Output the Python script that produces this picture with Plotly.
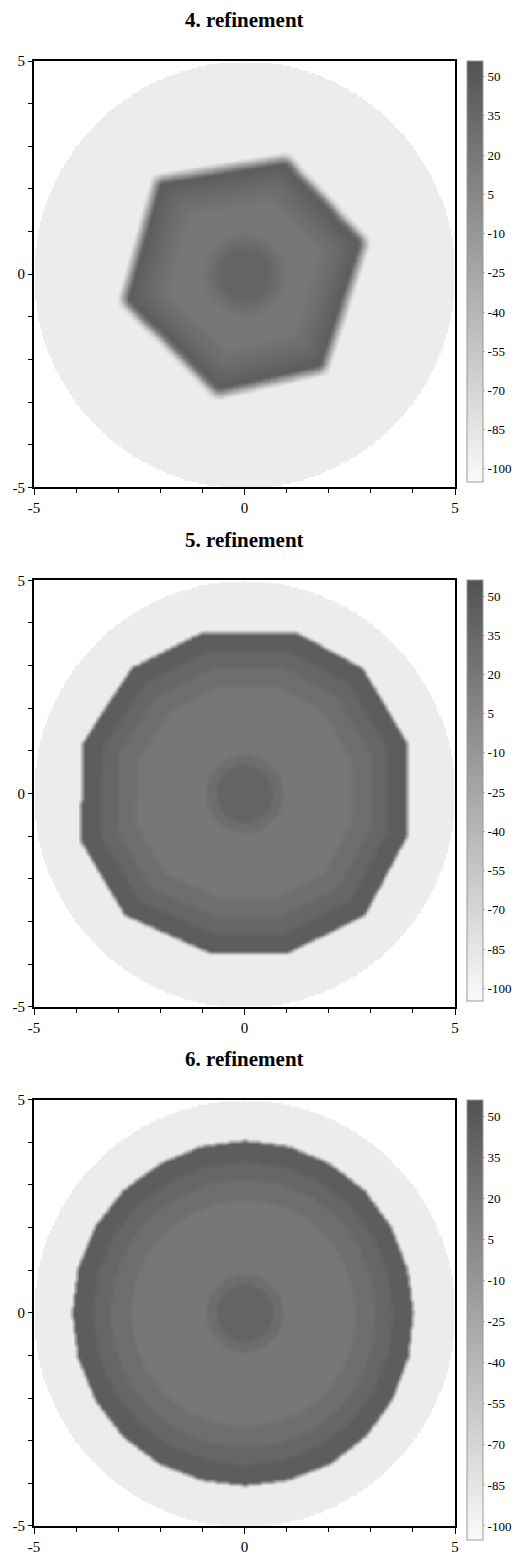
import numpy as np
import plotly.graph_objects as go

# ---- data -------------------------------------------------------------
titles = ["4. refinement", "5. refinement", "6. refinement"]

# front outlines (counter-clockwise vertices, data units)
front4_x = [2.88, 0.99, -2.10, -2.91, -0.67, 1.88]
front4_y = [0.77, 2.74, 2.24, -0.62, -2.83, -2.25]

front5_x = [3.85, 3.85, 2.80, 1.20, -1.00, -2.70, -3.85, -3.90, -2.85, -0.80, 1.00, 2.85]
front5_y = [-1.00, 1.20, 2.95, 3.80, 3.80, 2.95, 1.20, -1.10, -2.85, -3.75, -3.75, -2.85]

front6_angle = [0, 15, 30, 45, 60, 75, 90, 105, 120, 135, 150, 165,
                180, 195, 210, 225, 240, 255, 270, 285, 300, 315, 330, 345]
front6_radius = [4.00, 4.00, 4.02, 4.05, 4.05, 4.05, 4.05, 4.05, 4.05, 4.08, 4.10, 4.10,
                 4.10, 4.10, 4.10, 4.10, 4.08, 4.05, 4.05, 4.05, 4.08, 4.08, 4.05, 4.02]

# level values inside the front: (fraction of front radius, value)
front_bands = [(1.00, 45), (0.88, 37), (0.78, 29), (0.66, 21)]
# core around the origin: (radius, value)
core_bands = [(0.90, 30), (0.66, 39)]
ambient_value = -92
domain_radius = 5.0

cbar_ticks = [50, 35, 20, 5, -10, -25, -40, -55, -70, -85, -100]
axis_ticks = [-5, 0, 5]
blur_cells = [3, 1, 1]

# ---- field construction ---------------------------------------------------
grid = np.linspace(-5, 5, 251)
X, Y = np.meshgrid(grid, grid)
R = np.hypot(X, Y)


def gauge(vx, vy):
    """Normalized radius of each grid point w.r.t. a convex outline."""
    vx = np.asarray(vx, float)
    vy = np.asarray(vy, float)
    g = np.full(X.shape, -np.inf)
    for i in range(len(vx)):
        ax, ay = vx[i], vy[i]
        bx, by = vx[(i + 1) % len(vx)], vy[(i + 1) % len(vy)]
        nx, ny = by - ay, -(bx - ax)
        h = nx * ax + ny * ay
        g = np.maximum(g, (nx * X + ny * Y) / h)
    return g


def box_blur(z, w):
    if w <= 0:
        return z
    out = np.zeros_like(z)
    pad = np.pad(z, w, mode="edge")
    n = 2 * w + 1
    for dy in range(n):
        for dx in range(n):
            out += pad[dy:dy + z.shape[0], dx:dx + z.shape[1]]
    return out / n / n


def build_field(vx, vy, blur):
    s = gauge(vx, vy)
    z = np.full(X.shape, float(ambient_value))
    for frac, val in front_bands:
        z[s <= frac] = val
    for rad, val in core_bands:
        z[R <= rad] = val
    z = box_blur(z, blur)
    z[R > domain_radius] = np.nan
    return z


a6 = np.radians(front6_angle)
outlines = [
    (front4_x, front4_y),
    (front5_x, front5_y),
    (list(np.array(front6_radius) * np.cos(a6)), list(np.array(front6_radius) * np.sin(a6))),
]

# ---- figure ---------------------------------------------------------------
W, H = 524, 1567
ML, MR, MT, MB = 33, 59, 61, 25
PANEL = 431
PERIOD = 525
plot_h = H - MT - MB
plot_w = W - ML - MR

serif = "Liberation Serif, Times New Roman, serif"
grays = [[0.0, "rgb(250,250,250)"], [1.0, "rgb(82,82,82)"]]

fig = go.Figure()
layout = dict(
    width=W, height=H,
    margin=dict(l=ML, r=MR, t=MT, b=MB),
    paper_bgcolor="white", plot_bgcolor="white",
    showlegend=False,
    font=dict(family=serif, color="black"),
)
annotations = []

for i in range(3):
    top_px = MT + i * PERIOD
    d_top = min(1.0, 1 - (top_px - MT) / plot_h)
    d_bot = max(0.0, d_top - PANEL / plot_h)
    xn, yn = f"x{i + 1}", f"y{i + 1}"
    vx, vy = outlines[i]
    z = build_field(vx, vy, blur_cells[i])
    fig.add_trace(go.Heatmap(
        x=grid, y=grid, z=z, xaxis=xn, yaxis=yn,
        zmin=-105, zmax=56, colorscale=grays, zsmooth="best",
        hoverinfo="skip",
        colorbar=dict(
            x=(477 - ML) / plot_w, xanchor="left", xpad=0,
            y=d_top, yanchor="top", ypad=0,
            lenmode="pixels", len=421 if i < 2 else 440,
            thickness=16, outlinecolor="#999", outlinewidth=1,
            tickvals=cbar_ticks, ticktext=[str(t) for t in cbar_ticks],
            ticks="outside", ticklen=2, tickcolor="#bbb",
            tickfont=dict(family=serif, size=13, color="black"),
        ),
    ))
    common = dict(range=[-5, 5], showgrid=False, zeroline=False, fixedrange=True)
    layout[f"xaxis{i + 1}"] = dict(
        common, domain=[0, 1], anchor=yn,
        showline=True, linewidth=2, linecolor="black", mirror=True,
        ticks="outside", ticklen=6, tickwidth=1, tickcolor="black",
        tickvals=axis_ticks, ticktext=[str(t) for t in axis_ticks],
        minor=dict(dtick=1, tick0=0, ticks="outside", ticklen=4, tickcolor="black"),
        tickfont=dict(family=serif, size=15),
    )
    layout[f"yaxis{i + 1}"] = dict(
        common, domain=[d_bot, d_top], anchor=xn,
        showline=True, linewidth=2, linecolor="black", mirror=True,
        ticks="outside", ticklen=4, tickwidth=1, tickcolor="black",
        tickvals=axis_ticks, ticktext=[str(t) for t in axis_ticks],
        minor=dict(dtick=1, tick0=0, ticks="outside", ticklen=4, tickcolor="black"),
        tickfont=dict(family=serif, size=15),
    )
    # inward ticks on the top and right frame edges
    layout[f"xaxis{i + 4}"] = dict(
        common, overlaying=xn, anchor=yn, side="top",
        ticks="inside", ticklen=4, tickcolor="black",
        tickvals=list(range(-5, 6)), showticklabels=False, showline=False,
    )
    layout[f"yaxis{i + 4}"] = dict(
        common, overlaying=yn, anchor=xn, side="right",
        ticks="inside", ticklen=4, tickcolor="black",
        tickvals=list(range(-5, 6)), showticklabels=False, showline=False,
    )
    annotations.append(dict(
        text=f"<b>{titles[i]}</b>", xref="paper", yref="paper",
        x=0.5, y=(H - MB - (top_px - 41)) / plot_h,
        xanchor="center", yanchor="middle", showarrow=False,
        font=dict(family=serif, size=21, color="black"),
    ))

layout["annotations"] = annotations
fig.update_layout(**layout)
fig.write_html("out.html")
